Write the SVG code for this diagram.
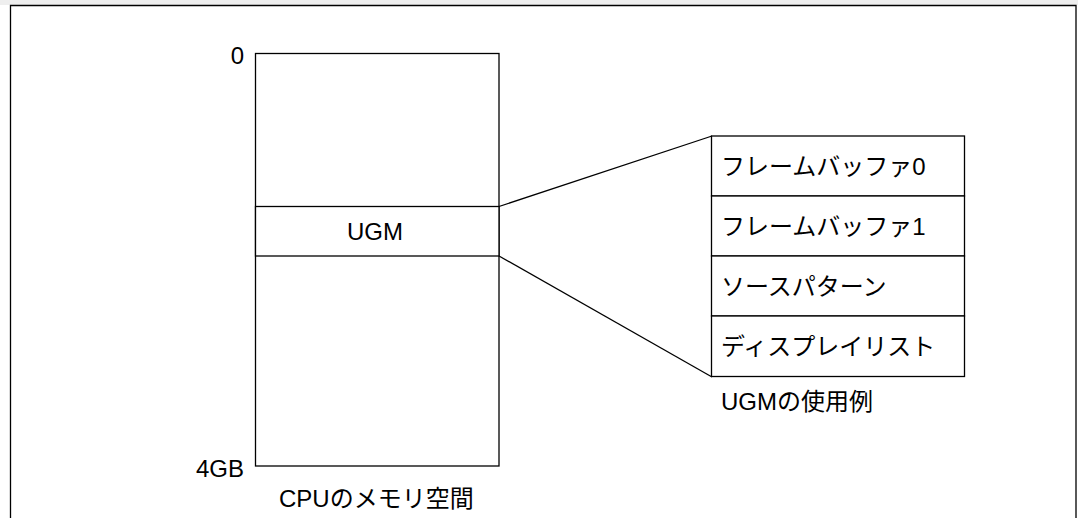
<svg xmlns="http://www.w3.org/2000/svg" width="1078" height="518" viewBox="0 0 1078 518">
<style>
.box{fill:#fff;stroke:#000;stroke-width:1.3}
.ln{stroke:#000;stroke-width:1.3;fill:none}
text{font-family:"Liberation Sans","Noto Sans CJK JP",sans-serif;font-size:24px;fill:#000}
</style>
<rect x="0" y="0" width="1078" height="518" fill="#fff"/>
<rect x="0" y="0" width="1078" height="5" fill="#eeeeee"/>
<path class="ln" d="M10.5,530 V5.5 H1076 V530"/>
<g id="cpu-memory">
<rect class="box" x="255.5" y="53.5" width="243.5" height="412.5"/>
<text x="244" y="64" text-anchor="end">0</text>
<text x="244" y="477" text-anchor="end">4GB</text>
<text x="279" y="507">CPUのメモリ空間</text>
</g>
<g id="ugm">
<rect class="box" x="255.5" y="206.5" width="243.5" height="49.5"/>
<text x="375" y="239.5" text-anchor="middle">UGM</text>
</g>
<g id="connectors">
<line class="ln" x1="499" y1="206.5" x2="712" y2="136"/>
<line class="ln" x1="499" y1="256" x2="712" y2="377"/>
</g>
<g id="ugm-usage">
<rect class="box" x="711.5" y="136" width="253" height="60"/>
<rect class="box" x="711.5" y="196" width="253" height="60"/>
<rect class="box" x="711.5" y="256" width="253" height="60"/>
<rect class="box" x="711.5" y="316" width="253" height="60.5"/>
<text x="721" y="175">フレームバッファ0</text>
<text x="721" y="235">フレームバッファ1</text>
<text x="721" y="295">ソースパターン</text>
<text x="721" y="355">ディスプレイリスト</text>
<text x="721" y="410">UGMの使用例</text>
</g>
</svg>
